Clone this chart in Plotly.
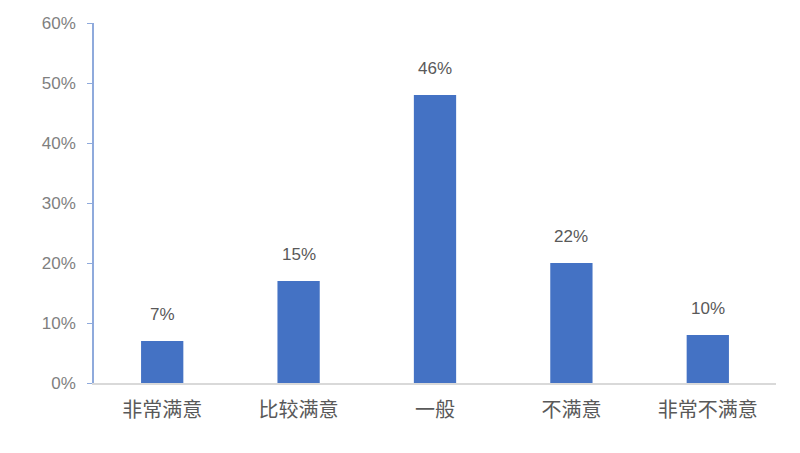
import plotly.graph_objects as go

categories = ["非常满意", "比较满意", "一般", "不满意", "非常不满意"]
values = [7, 17, 48, 20, 8]
labels = ["7%", "15%", "46%", "22%", "10%"]
tick_vals = [0, 10, 20, 30, 40, 50, 60]
tick_text = ["0%", "10%", "20%", "30%", "40%", "50%", "60%"]

fig = go.Figure()
fig.add_trace(go.Bar(x=categories, y=values, marker=dict(color="#4472C4", line=dict(width=0)),
                     hoverinfo="skip"))
for c, v, t in zip(categories, values, labels):
    fig.add_annotation(x=c, y=v, text=t, showarrow=False, yanchor="bottom", yshift=15,
                       font=dict(family="Liberation Sans, Arial", size=17, color="#595959"))

fig.update_layout(
    width=800, height=453,
    margin=dict(l=86, r=32, t=15, b=78, autoexpand=False),
    plot_bgcolor="white", paper_bgcolor="white",
    bargap=0.69, showlegend=False,
    font=dict(family="Liberation Sans, Noto Sans CJK SC", size=15, color="#595959"),
)
fig.update_yaxes(range=[0, 60], tickvals=tick_vals, ticktext=tick_text, showgrid=False,
                 showline=True, linecolor="#8FAADC", linewidth=1.5, ticks="outside", ticklen=5,
                 tickcolor="#8FAADC", zeroline=False, ticklabelstandoff=8,
                 tickfont=dict(family="Liberation Sans, Arial", size=17, color="#7F7F7F"))
fig.update_xaxes(showline=True, linecolor="#D9D9D9", linewidth=1.5, showgrid=False, ticks="",
                 ticklabelstandoff=8,
                 tickfont=dict(family="Noto Sans CJK SC", size=20, color="#595959"))
fig.write_html("out.html")
